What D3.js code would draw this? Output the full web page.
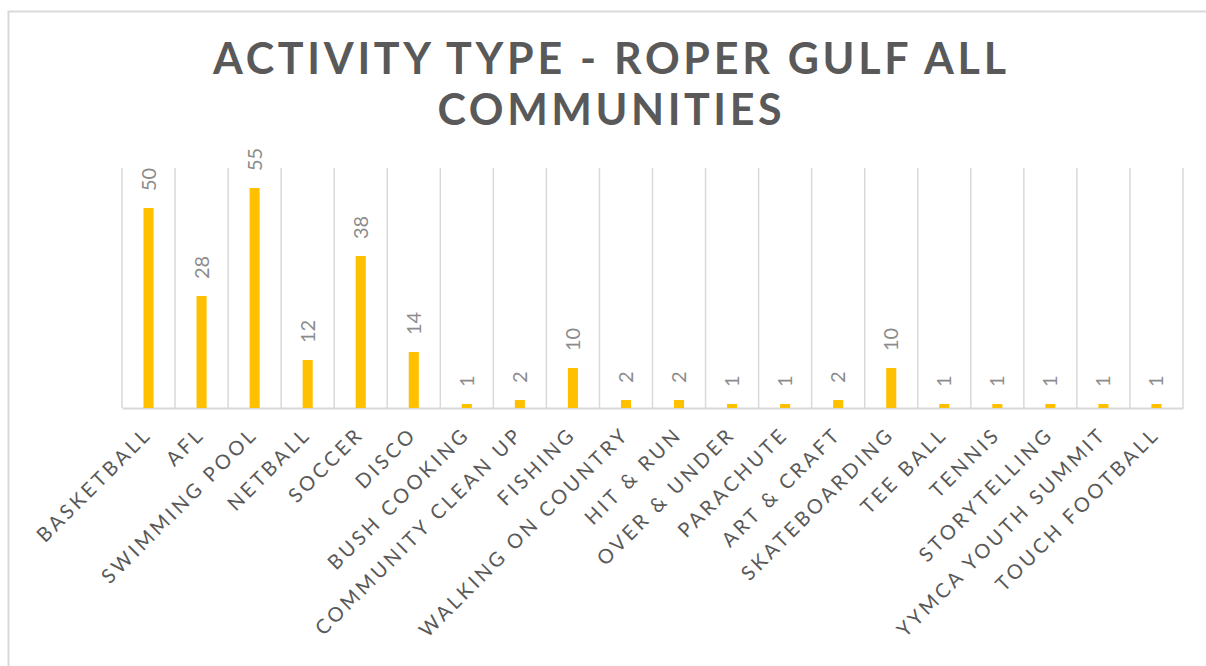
<!DOCTYPE html>
<html>
<head>
<meta charset="utf-8">
<script src="https://cdn.jsdelivr.net/npm/d3@7"></script>
<style>
  html, body { margin: 0; padding: 0; background: #ffffff; }
  svg { display: block; }
</style>
</head>
<body>
<svg id="chart" width="1206" height="666"></svg>
<script>
const categories = ["BASKETBALL", "AFL", "SWIMMING POOL", "NETBALL", "SOCCER", "DISCO",
  "BUSH COOKING", "COMMUNITY CLEAN UP", "FISHING", "WALKING ON COUNTRY", "HIT & RUN",
  "OVER & UNDER", "PARACHUTE", "ART & CRAFT", "SKATEBOARDING", "TEE BALL", "TENNIS",
  "STORYTELLING", "YYMCA YOUTH SUMMIT", "TOUCH FOOTBALL"];
const values = [50, 28, 55, 12, 38, 14, 1, 2, 10, 2, 2, 1, 1, 2, 10, 1, 1, 1, 1, 1];
const titleLines = ["ACTIVITY TYPE - ROPER GULF ALL", "COMMUNITIES"];
const yDomain = [0, 60];

const svg = d3.select("#chart");
const plot = { left: 122, right: 1183, top: 168, bottom: 408 };

// outer border
svg.append("rect")
  .attr("x", 8.5).attr("y", 11.5)
  .attr("width", 1400).attr("height", 1000)
  .attr("fill", "none").attr("stroke", "#d9d9d9").attr("stroke-width", 2);

// title
const titleW = [793, 344];
svg.selectAll("text.title").data(titleLines).enter().append("text")
  .attr("class", "title")
  .attr("x", 609.5)
  .attr("y", (d, i) => 74 + i * 51)
  .attr("text-anchor", "middle")
  .attr("font-family", "Lato, 'Open Sans', sans-serif")
  .attr("font-weight", "bold")
  .attr("font-size", 43)
  .attr("fill", "#595959")
  .attr("textLength", (d, i) => titleW[i])
  .attr("lengthAdjust", "spacing")
  .text(d => d);

const x = d3.scaleBand().domain(categories).range([plot.left, plot.right]).padding(0);
const y = d3.scaleLinear().domain(yDomain).range([plot.bottom, plot.top]);

// vertical gridlines at category boundaries
const bounds = categories.map(c => x(c)).concat([x(categories[categories.length - 1]) + x.bandwidth()]);
svg.append("g").selectAll("line").data(bounds).enter().append("line")
  .attr("x1", d => d).attr("x2", d => d)
  .attr("y1", y(yDomain[1])).attr("y2", y(0))
  .attr("stroke", "#d9d9d9").attr("stroke-width", 1.5);

// baseline axis
const xAxis = d3.axisBottom(x).tickSize(0).tickFormat("");
const ax = svg.append("g").attr("transform", `translate(0,${y(0)})`).call(xAxis);
ax.select(".domain").attr("stroke", "#d9d9d9").attr("stroke-width", 2);

// bars
const barW = x.bandwidth() * 0.19;
svg.append("g").selectAll("rect").data(values).enter().append("rect")
  .attr("x", (d, i) => x(categories[i]) + x.bandwidth() / 2 - barW / 2)
  .attr("y", d => y(d))
  .attr("width", barW)
  .attr("height", d => y(0) - y(d))
  .attr("fill", "#FFC000");

// data labels
svg.append("g").selectAll("text").data(values).enter().append("text")
  .attr("transform", (d, i) => `translate(${x(categories[i]) + x.bandwidth() / 2},${y(d) - 17}) rotate(-90)`)
  .attr("dy", "0.35em")
  .attr("text-anchor", "start")
  .attr("font-family", "Lato, 'Open Sans', sans-serif")
  .attr("font-size", 20)
  .attr("fill", "#8c8c8c")
  .text(d => d);

// category labels
const ls = 3.2;
svg.append("g").selectAll("text").data(categories).enter().append("text")
  .attr("transform", d => {
    const cx = x(d) + x.bandwidth() / 2 + 2 + ls * 0.707;
    const cy = 438 - ls * 0.707;
    return `translate(${cx},${cy}) rotate(-45)`;
  })
  .attr("text-anchor", "end")
  .attr("font-family", "Lato, 'Open Sans', sans-serif")
  .attr("font-size", 20)
  .attr("letter-spacing", ls)
  .attr("fill", "#595959")
  .text(d => d);
</script>
</body>
</html>
